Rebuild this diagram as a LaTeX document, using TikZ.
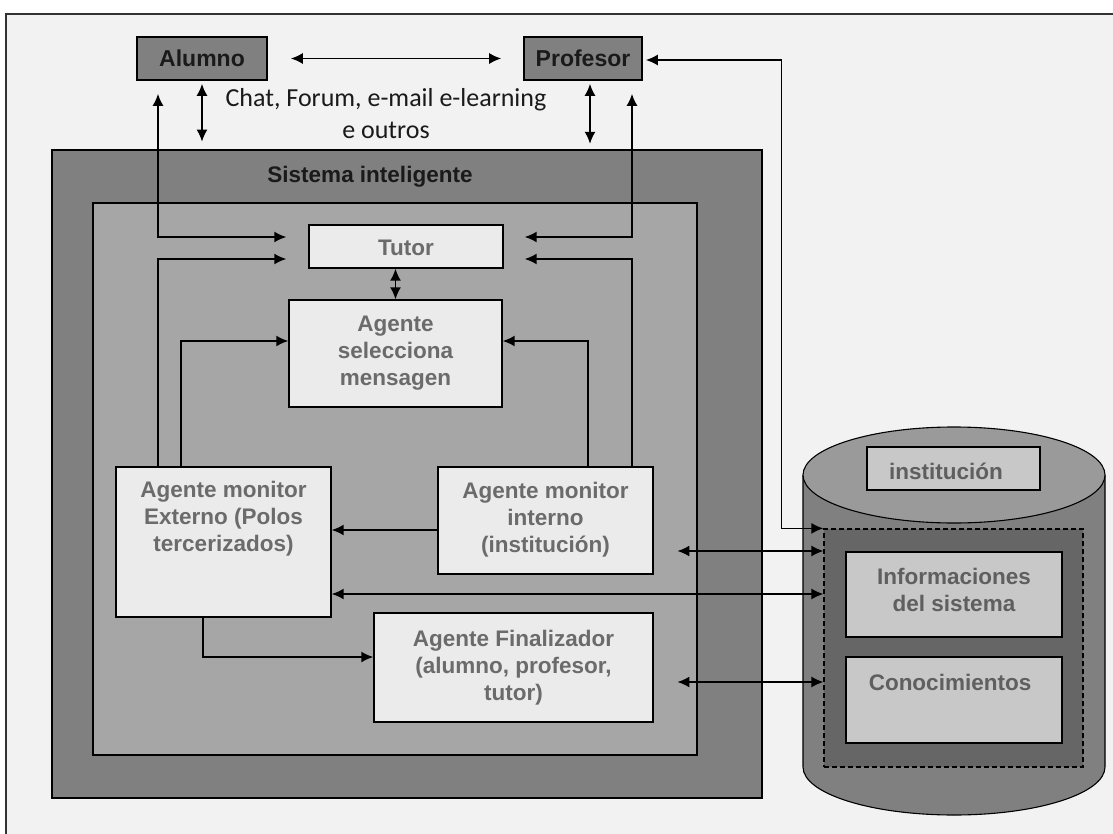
\documentclass[tikz,border=0pt]{standalone}
\usepackage{fontspec}
\setmainfont{Liberation Sans}
\newfontfamily\carl{Carlito}
\usetikzlibrary{arrows.meta,calc,shapes.geometric}
\definecolor{bgc}{HTML}{F2F2F2}
\definecolor{dk}{HTML}{808080}
\definecolor{md}{HTML}{A6A6A6}
\definecolor{agf}{HTML}{EBEBEB}
\definecolor{agt}{HTML}{6B6B6B}
\definecolor{cyltop}{HTML}{9A9A9A}
\definecolor{dbf}{HTML}{666666}
\definecolor{lbf}{HTML}{C8C8C8}
\definecolor{lbt}{HTML}{5F5F5F}
\definecolor{txt}{HTML}{1A1A1A}
\begin{document}
\begin{tikzpicture}[x=1pt,y=-1pt,
  tip/.tip={Latex[length=12pt,width=11pt]},
  sar/.style={-tip, line width=1.6pt},
  dar/.style={tip-tip, line width=1.6pt},
  person/.style={draw=black, line width=1.6pt, fill=dk, text=txt, font=\bfseries\fontsize{23}{27}\selectfont, inner sep=0pt},
  agent/.style={draw=black, line width=1.4pt, fill=agf, inner sep=0pt},
  agtext/.style={text=agt, font=\bfseries\fontsize{22.5}{27}\selectfont, align=center, inner sep=0pt},
  dbbox/.style={draw=black, line width=1.4pt, fill=lbf, inner sep=0pt},
  dbtext/.style={text=lbt, font=\bfseries\fontsize{22.5}{27}\selectfont, align=center, inner sep=0pt}
]
\useasboundingbox (0,0) rectangle (1113,834);
\fill[white] (0,0) rectangle (1113,834);
\fill[bgc] (6,14) rectangle (1113,834);
\draw[line width=1.2pt, black!80] (6,834) -- (6,14) -- (1113,14);

% persons
\node[person, minimum width=130pt, minimum height=43pt] (alumno) at (202,58.5) {Alumno};
\node[person, minimum width=118pt, minimum height=43pt] (profesor) at (583,58.5) {Profesor};
\node[text=txt, font=\carl\fontsize{26}{32}\selectfont, align=center, inner sep=0pt] (chat) at (386,114) {Chat, Forum, e-mail e-learning\\e outros};

% system boxes
\node[draw=black, line width=2.8pt, fill=dk, minimum width=710pt, minimum height=648pt, inner sep=0pt] (sistema) at (407,474) {};
\node[text=txt, font=\bfseries\fontsize{22.5}{27}\selectfont, inner sep=0pt] (sislabel) at (370,177) {Sistema inteligente};
\node[draw=black, line width=2.8pt, fill=md, minimum width=604pt, minimum height=552pt, inner sep=0pt] (inner) at (395,479) {};

% agents
\node[agent, minimum width=194pt, minimum height=43pt] (tutor) at (406,246.5) {};
\node[agtext] at (406,248) {Tutor};
\node[agent, minimum width=213pt, minimum height=107pt] (sel) at (395.5,353.5) {};
\node[agtext] at (395.5,353) {Agente\\selecciona\\mensagen};
\node[agent, minimum width=215pt, minimum height=150pt] (ext) at (223.5,542) {};
\node[agtext] at (223.5,519) {Agente monitor\\Externo (Polos\\tercerizados)};
\node[agent, minimum width=215pt, minimum height=107pt] (int) at (545.5,520.5) {};
\node[agtext] at (545.5,520) {Agente monitor\\interno\\(institución)};
\node[agent, minimum width=279pt, minimum height=109pt] (fin) at (513.5,667.5) {};
\node[agtext] at (513.5,668) {Agente Finalizador\\(alumno, profesor,\\tutor)};

% cylinder
\fill[dk] (803,475) -- (803,767) arc[start angle=180, end angle=360, x radius=151pt, y radius=48pt] -- (1105,475) -- cycle;
\draw[black, line width=1.1pt] (803,475) -- (803,767) arc[start angle=180, end angle=360, x radius=151pt, y radius=48pt] -- (1105,475);
\node[ellipse, draw=black, line width=1.1pt, fill=cyltop, minimum width=302pt, minimum height=96pt, inner sep=0pt] (cyltop) at (954,475) {};
\node[dbbox, minimum width=173pt, minimum height=43pt] (inst) at (953.5,468.5) {};
\node[dbtext] at (946,471) {institución};
\node[draw=black, dash pattern=on 5pt off 3pt, line width=1.2pt, fill=dbf, minimum width=259pt, minimum height=238pt, inner sep=0pt] (db) at (953.5,648) {};
\node[dbbox, minimum width=216pt, minimum height=85pt] (info) at (954,594.5) {};
\node[dbtext] at (954,590) {Informaciones\\del sistema};
\node[dbbox, minimum width=216pt, minimum height=86pt] (cono) at (954,700) {};
\node[dbtext] at (950,682) {Conocimientos};

% connectors
\draw[dar, shorten <=23pt, shorten >=22pt] (alumno.east) -- (profesor.west);
\draw[dar, shorten <=3pt, shorten >=7pt] (alumno.south) -- (alumno.south |- sistema.north);
\draw[dar, shorten <=3pt, shorten >=7pt] ($(profesor.south)+(7,0)$) -- ($(profesor.south)+(7,70)$);
\draw[dar] ($(alumno.south)+(-44,13)$) |- ($(tutor.west)+(-22,-9.5)$);
\draw[sar] ($(ext.north)+(-65.5,0)$) |- ($(tutor.west)+(-22,12.5)$);
\draw[dar] ($(profesor.south)+(49,13)$) |- ($(tutor.east)+(21,-9.5)$);
\draw[sar] ($(int.north)+(86.5,0)$) |- ($(tutor.east)+(21,12.5)$);
\draw[dar] (sel.north) -- (sel.north |- tutor.south);
\draw[sar] ($(ext.north)+(-42.5,0)$) |- ($(sel.west)+(0,-12.5)$);
\draw[sar] ($(int.north)+(42.5,0)$) |- ($(sel.east)+(0,-12.5)$);
\draw[sar] ($(int.west)+(0,9.5)$) -- ($(ext.east)+(0,-12)$);
\draw[dar] ($(ext.east)+(0,52)$) -- ($(db.west)+(0,-54)$);
\draw[dar] ($(inner.east)+(-21,72)$) -- ($(db.west)+(0,-97)$);
\draw[dar] ($(inner.east)+(-21,203)$) -- ($(db.west)+(0,34)$);
\draw[dar] ($(profesor.east)+(3,1.5)$) -| ($(db.north west)+(-42,0)$) -- (db.north west);
\draw[sar] ($(ext.south)+(-20.5,0)$) |- ($(fin.west)+(0,-10.5)$);
\end{tikzpicture}
\end{document}
